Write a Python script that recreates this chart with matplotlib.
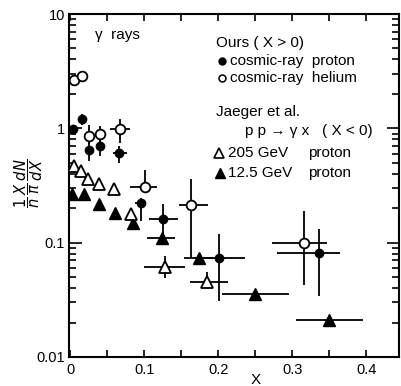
import numpy as np
import matplotlib
matplotlib.use("Agg")
import matplotlib.pyplot as plt
from matplotlib.ticker import FixedLocator, LogLocator, FuncFormatter, NullFormatter

plt.rcParams['font.family'] = ['Liberation Sans', 'DejaVu Sans']

# cosmic-ray helium (open circles): x, y and error-bar bounds
he_x = [0.005, 0.016, 0.025, 0.040, 0.067, 0.101, 0.163, 0.316]
he_y = [2.63, 2.85, 0.85, 0.89, 0.98, 0.305, 0.213, 0.099]
he_xlo = [0.005, 0.016, 0.025, 0.040, 0.053, 0.080, 0.147, 0.272]
he_xhi = [0.005, 0.016, 0.025, 0.040, 0.080, 0.117, 0.186, 0.347]
he_ylo = [2.63, 2.85, 0.73, 0.76, 0.74, 0.305, 0.073, 0.0425]
he_yhi = [2.63, 2.85, 1.08, 1.04, 1.20, 0.43, 0.36, 0.188]

# cosmic-ray proton (filled circles)
pr_x = [0.003, 0.015, 0.025, 0.040, 0.066, 0.095, 0.125, 0.201, 0.336]
pr_y = [0.98, 1.20, 0.64, 0.70, 0.605, 0.221, 0.16, 0.073, 0.081]
pr_xlo = [0.003, 0.015, 0.025, 0.040, 0.058, 0.087, 0.106, 0.168, 0.279]
pr_xhi = [0.003, 0.015, 0.025, 0.040, 0.076, 0.102, 0.145, 0.236, 0.364]
pr_ylo = [0.886, 1.08, 0.515, 0.57, 0.495, 0.154, 0.105, 0.031, 0.034]
pr_yhi = [1.08, 1.33, 0.77, 0.80, 0.70, 0.245, 0.217, 0.118, 0.131]

# Jaeger et al. 205 GeV proton (open triangles)
j205_x = [0.005, 0.014, 0.024, 0.039, 0.059, 0.082, 0.128, 0.185]
j205_y = [0.466, 0.42, 0.36, 0.324, 0.293, 0.177, 0.061, 0.045]
j205_xlo = [0.005, 0.014, 0.024, 0.039, 0.059, 0.082, 0.100, 0.162]
j205_xhi = [0.005, 0.014, 0.024, 0.039, 0.059, 0.082, 0.155, 0.213]
j205_ylo = [0.43, 0.39, 0.335, 0.30, 0.27, 0.163, 0.049, 0.039]
j205_yhi = [0.466, 0.42, 0.36, 0.324, 0.293, 0.177, 0.076, 0.055]

# Jaeger et al. 12.5 GeV proton (filled triangles)
j12_x = [0.002, 0.018, 0.039, 0.060, 0.084, 0.124, 0.174, 0.249, 0.350]
j12_y = [0.265, 0.265, 0.217, 0.181, 0.148, 0.109, 0.073, 0.0355, 0.021]
j12_xlo = [0.002, 0.018, 0.039, 0.060, 0.084, 0.103, 0.153, 0.205, 0.305]
j12_xhi = [0.002, 0.018, 0.039, 0.060, 0.084, 0.141, 0.192, 0.295, 0.395]
j12_ylo = [0.245, 0.245, 0.20, 0.168, 0.135, 0.100, 0.066, 0.032, 0.019]
j12_yhi = [0.265, 0.265, 0.217, 0.181, 0.148, 0.109, 0.073, 0.0355, 0.021]


def errs(v, lo, hi):
    v, lo, hi = np.array(v), np.array(lo), np.array(hi)
    return np.vstack([v - lo, hi - v])


fig = plt.figure(figsize=(4.01, 3.86), dpi=100)
ax = fig.add_axes([69 / 401, 29 / 386, 330 / 401, 343 / 386])

eb = dict(ls='none', ecolor='black', elinewidth=1.3, capsize=0, zorder=3)
ax.errorbar(j12_x, j12_y, xerr=errs(j12_x, j12_xlo, j12_xhi),
            yerr=errs(j12_y, j12_ylo, j12_yhi), marker='^', ms=8,
            mfc='black', mec='black', **eb)
ax.errorbar(j205_x, j205_y, xerr=errs(j205_x, j205_xlo, j205_xhi),
            yerr=errs(j205_y, j205_ylo, j205_yhi), marker='^', ms=8,
            mfc='white', mec='black', mew=1.3, **eb)
ax.errorbar(pr_x, pr_y, xerr=errs(pr_x, pr_xlo, pr_xhi),
            yerr=errs(pr_y, pr_ylo, pr_yhi), marker='o', ms=6,
            mfc='black', mec='black', **eb)
ax.errorbar(he_x, he_y, xerr=errs(he_x, he_xlo, he_xhi),
            yerr=errs(he_y, he_ylo, he_yhi), marker='o', ms=7,
            mfc='white', mec='black', mew=1.3, **eb)

ax.set_yscale('log')
ax.set_xlim(-0.002, 0.444)
ax.set_ylim(0.01, 10)

ax.xaxis.set_major_locator(FixedLocator([0, 0.1, 0.2, 0.3, 0.4]))
ax.xaxis.set_minor_locator(FixedLocator([0.05, 0.15, 0.25, 0.35]))
ax.xaxis.set_major_formatter(FuncFormatter(lambda v, p: '%g' % v))
ax.yaxis.set_major_locator(LogLocator(base=10, numticks=10))
ax.yaxis.set_minor_locator(LogLocator(base=10, subs=np.arange(2, 10), numticks=20))
ax.yaxis.set_major_formatter(FuncFormatter(lambda v, p: '%g' % v))
ax.yaxis.set_minor_formatter(NullFormatter())

ax.tick_params(which='both', direction='in', top=True, right=True,
               width=1.2, labelsize=10.5, colors='black')
ax.tick_params(axis='y', which='major', length=9, pad=3)
ax.tick_params(axis='y', which='minor', length=5)
ax.tick_params(axis='x', which='both', length=5, pad=4)
for s in ax.spines.values():
    s.set_linewidth(1.5)

ax.set_xlabel('X', fontsize=11)
ax.xaxis.set_label_coords((256 - 69) / 330, -0.047)
ax.set_ylabel(r'$\dfrac{1}{n}\,\dfrac{X}{\pi}\,\dfrac{dN}{dX}$', fontsize=10.5)
ax.yaxis.set_label_coords(-0.121, 0.507)
ax.yaxis.label.set_va('center')

tr = ax.transAxes
fs = 11
ax.text(0.079, 0.939, 'γ  rays', transform=tr, fontsize=fs, va='center')
ax.text(0.445, 0.915, 'Ours ( X > 0)', transform=tr, fontsize=fs, va='center')
ax.plot([0.464], [0.863], 'o', ms=5, mfc='black', mec='black', transform=tr)
ax.text(0.487, 0.863, 'cosmic-ray  proton', transform=tr, fontsize=fs, va='center')
ax.plot([0.464], [0.813], 'o', ms=5, mfc='white', mec='black', mew=1.1, transform=tr)
ax.text(0.487, 0.813, 'cosmic-ray  helium', transform=tr, fontsize=fs, va='center')
ax.text(0.445, 0.714, 'Jaeger et al.', transform=tr, fontsize=fs, va='center')
ax.text(0.533, 0.659, 'p p → γ x   ( X < 0)', transform=tr, fontsize=fs, va='center')
ax.plot([0.455], [0.595], '^', ms=7, mfc='white', mec='black', mew=1.2, transform=tr)
ax.text(0.482, 0.595, '205 GeV', transform=tr, fontsize=fs, va='center')
ax.text(0.724, 0.595, 'proton', transform=tr, fontsize=fs, va='center')
ax.plot([0.458], [0.536], '^', ms=7, mfc='black', mec='black', transform=tr)
ax.text(0.482, 0.536, '12.5 GeV', transform=tr, fontsize=fs, va='center')
ax.text(0.724, 0.536, 'proton', transform=tr, fontsize=fs, va='center')

fig.savefig('out.png', dpi=100)
